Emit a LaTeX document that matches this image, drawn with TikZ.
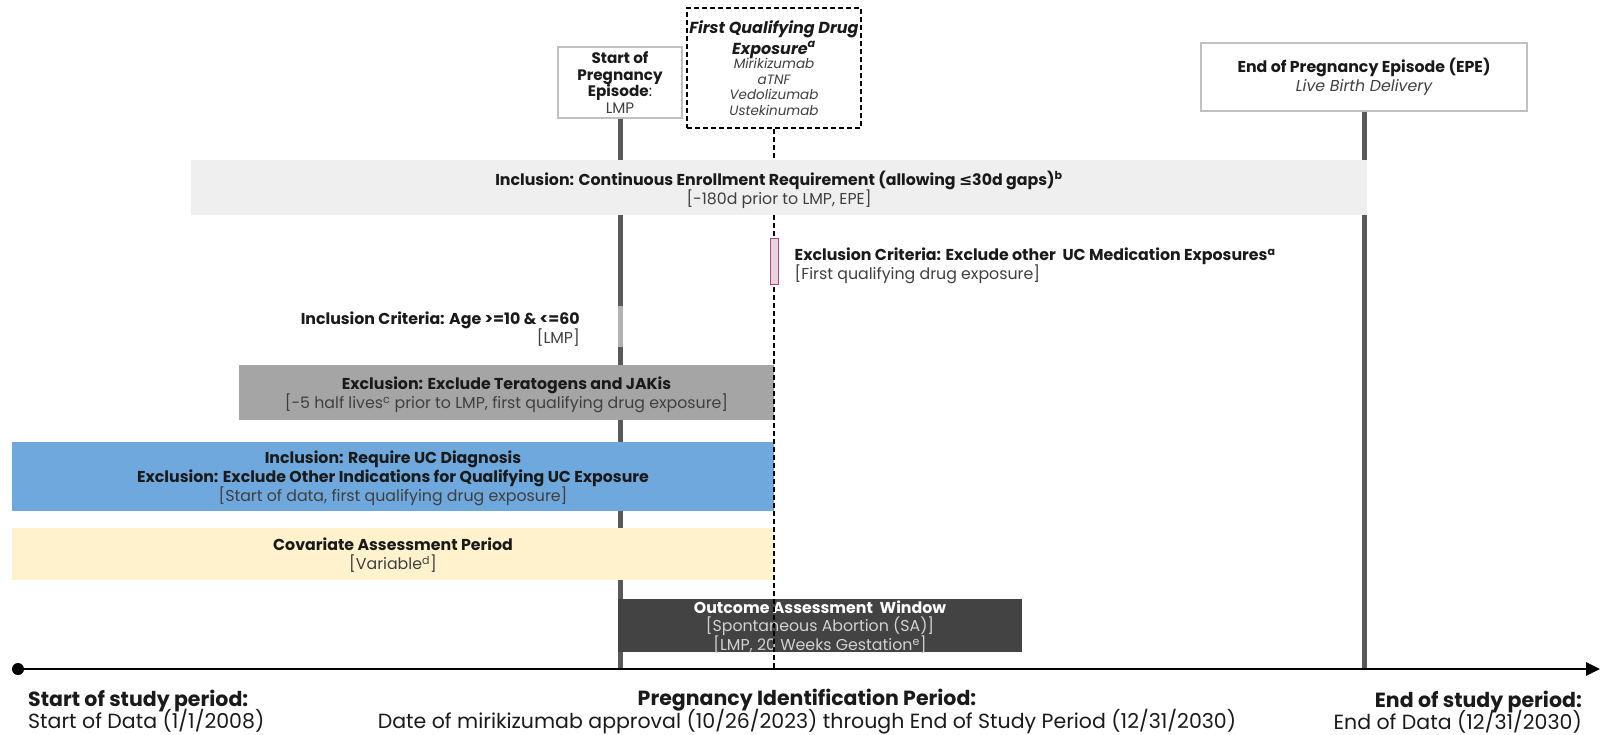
\documentclass[tikz,border=0pt]{standalone}
\usepackage{fontspec}
\setmainfont{Poppins}
\newfontfamily\symfont{DejaVu Sans}
\usetikzlibrary{positioning,arrows.meta}
\lineskiplimit=-100pt

\definecolor{linegray}{HTML}{595959}
\definecolor{enrollfill}{HTML}{EFEFEF}
\definecolor{teratofill}{HTML}{A5A5A5}
\definecolor{ucblue}{HTML}{6FA8DC}
\definecolor{covyellow}{HTML}{FFF2CC}
\definecolor{outcomefill}{HTML}{434343}
\definecolor{pinkfill}{HTML}{EAD1DC}
\definecolor{pinkedge}{HTML}{A64D79}
\definecolor{boxedge}{HTML}{C0C0C0}
\definecolor{rangegray}{HTML}{3F3F3F}
\definecolor{darktext}{HTML}{1A1A1A}

\newcommand{\rangetext}[1]{{\color{rangegray}\mdseries #1}}
\newcommand{\drugname}[1]{{\fontsize{13.5}{15}\selectfont\itshape\color{rangegray}#1}}
\newcommand{\drugtitle}[1]{{\bfseries\itshape #1}}

\tikzset{
  period/.style={inner sep=0pt, align=center, text=darktext, text depth=-2.5pt,
    font=\fontsize{15.8}{19}\selectfont},
  eventbox/.style={draw=boxedge, line width=1.2pt, inner sep=0pt, align=center,
    text=darktext},
  timeline/.style={linegray, line width=5pt},
  note/.style={inner sep=0pt, text=darktext, font=\fontsize{15.8}{19}\selectfont},
  axislabel/.style={inner sep=0pt, text=darktext, font=\fontsize{20.5}{21.5}\selectfont}
}

\begin{document}
\begin{tikzpicture}[x=1pt,y=-1pt]
\fill[white] (0,0) rectangle (1602,734);
\useasboundingbox (0,0) rectangle (1602,734);

% event boxes on top
\node[eventbox, minimum width=124pt, minimum height=71pt,
  font=\fontsize{15.2}{16.5}\selectfont] (startbox) at (620,82.5)
  {\textbf{Start of}\\\textbf{Pregnancy}\\\textbf{Episode}:\\\rangetext{LMP}};
\node[eventbox, draw=black, dash pattern=on 5pt off 3pt, line width=1.3pt,
  minimum width=174pt, minimum height=120pt, font=\fontsize{16}{20.5}\selectfont]
  (dashbox) at (774,68)
  {\drugtitle{First Qualifying Drug}\\\drugtitle{Exposure\textsuperscript{a}}\\[-6pt]
   \drugname{Mirikizumab}\\[-5pt]\drugname{aTNF}\\[-5pt]\drugname{Vedolizumab}\\[-5pt]\drugname{Ustekinumab}};
\node[eventbox, minimum width=326pt, minimum height=68pt,
  font=\fontsize{15.8}{19}\selectfont] (epebox) at (1364,77)
  {\textbf{End of Pregnancy Episode (EPE)}\\\rangetext{\itshape Live Birth Delivery}};

% axis points
\coordinate (lmpaxis) at (620,669);
\coordinate (epeaxis) at (1364,669);
\coordinate (drugaxis) at (774,669);
\coordinate (axisend) at (1600,669);

\draw[timeline] (startbox.south) -- (lmpaxis);
\draw[timeline] (epebox.south) -- (epeaxis);
\node[inner sep=0pt, fill=gray!60, minimum width=5pt, minimum height=41pt]
  (agemark) at (620,326.5) {};

% periods
\node[period, fill=enrollfill, minimum width=1176pt, minimum height=55pt]
  (enroll) at (779,187.5)
  {\textbf{Inclusion: Continuous Enrollment Requirement (allowing {\symfont ≤}30d gaps)\textsuperscript{b}}\\
   \rangetext{[-180d prior to LMP, EPE]}};
\node[period, fill=teratofill, minimum width=535pt, minimum height=55pt]
  (terato) at (506.5,392.5)
  {\textbf{Exclusion: Exclude Teratogens and JAKis}\\
   \rangetext{[-5 half lives\textsuperscript{c} prior to LMP, first qualifying drug exposure]}};
\node[period, fill=ucblue, minimum width=762pt, minimum height=69pt]
  (ucdiag) at (393,476.5)
  {\textbf{Inclusion: Require UC Diagnosis}\\
   \textbf{Exclusion: Exclude Other Indications for Qualifying UC Exposure}\\
   \rangetext{[Start of data, first qualifying drug exposure]}};
\node[period, fill=covyellow, minimum width=762pt, minimum height=52pt]
  (covariate) at (393,554)
  {\textbf{Covariate Assessment Period}\\\rangetext{[Variable\textsuperscript{d}]}};
\node[inner sep=0pt, fill=outcomefill, minimum width=404pt, minimum height=53pt]
  (outcome) at (820,625.5) {};
\node[period, text=white, text depth=-1pt, font=\fontsize{15.8}{18.5}\selectfont]
  (outcometext) at (outcome.center)
  {\textbf{Outcome Assessment\ \ Window}\\
   {\color{gray!35}[Spontaneous Abortion (SA)]}\\
   {\color{gray!35}[LMP, 20 Weeks Gestation\textsuperscript{e}]}};

% first qualifying drug exposure
\draw[dash pattern=on 5pt off 3pt, line width=1.1pt] (dashbox.south) -- (dashbox.south |- enroll.north);
\draw[dash pattern=on 5pt off 3pt, line width=1.1pt] (dashbox.south |- enroll.south) -- (drugaxis);
\node[inner sep=0pt, draw=pinkedge, fill=pinkfill, line width=1pt,
  minimum width=8pt, minimum height=46pt] (ucmed) at (774,261) {};

% criteria notes
\node[note, align=left, right=16pt of ucmed, yshift=-5pt]
  (ucmednote)
  {\textbf{Exclusion Criteria: Exclude other\ \ UC Medication Exposures\textsuperscript{a}}\\
   \rangetext{[First qualifying drug exposure]}};
\node[note, anchor=east, align=right] (agenote) at (580,329)
  {\textbf{Inclusion Criteria: Age >=10 \& <=60}\\\rangetext{[LMP]}};

% study axis
\node[circle, fill=black, inner sep=0pt, minimum size=12pt] (axisdot) at (18,669) {};
\draw[line width=2.6pt, -{Triangle[length=14pt,width=13pt]}] (axisdot.center) -- (axisend);

\node[axislabel, anchor=west, align=left] (studystart) at (28,711)
  {\textbf{Start of study period:}\\Start of Data (1/1/2008)};
\node[axislabel, align=center, font=\fontsize{20.5}{23.5}\selectfont]
  (pregperiod) at (807,711.5)
  {\textbf{Pregnancy Identification Period:}\\
   Date of mirikizumab approval (10/26/2023) through End of Study Period (12/31/2030)};
\node[axislabel, anchor=east, align=right] (studyend) at (1582,712)
  {\textbf{End of study period:}\\End of Data (12/31/2030)};
\end{tikzpicture}
\end{document}
